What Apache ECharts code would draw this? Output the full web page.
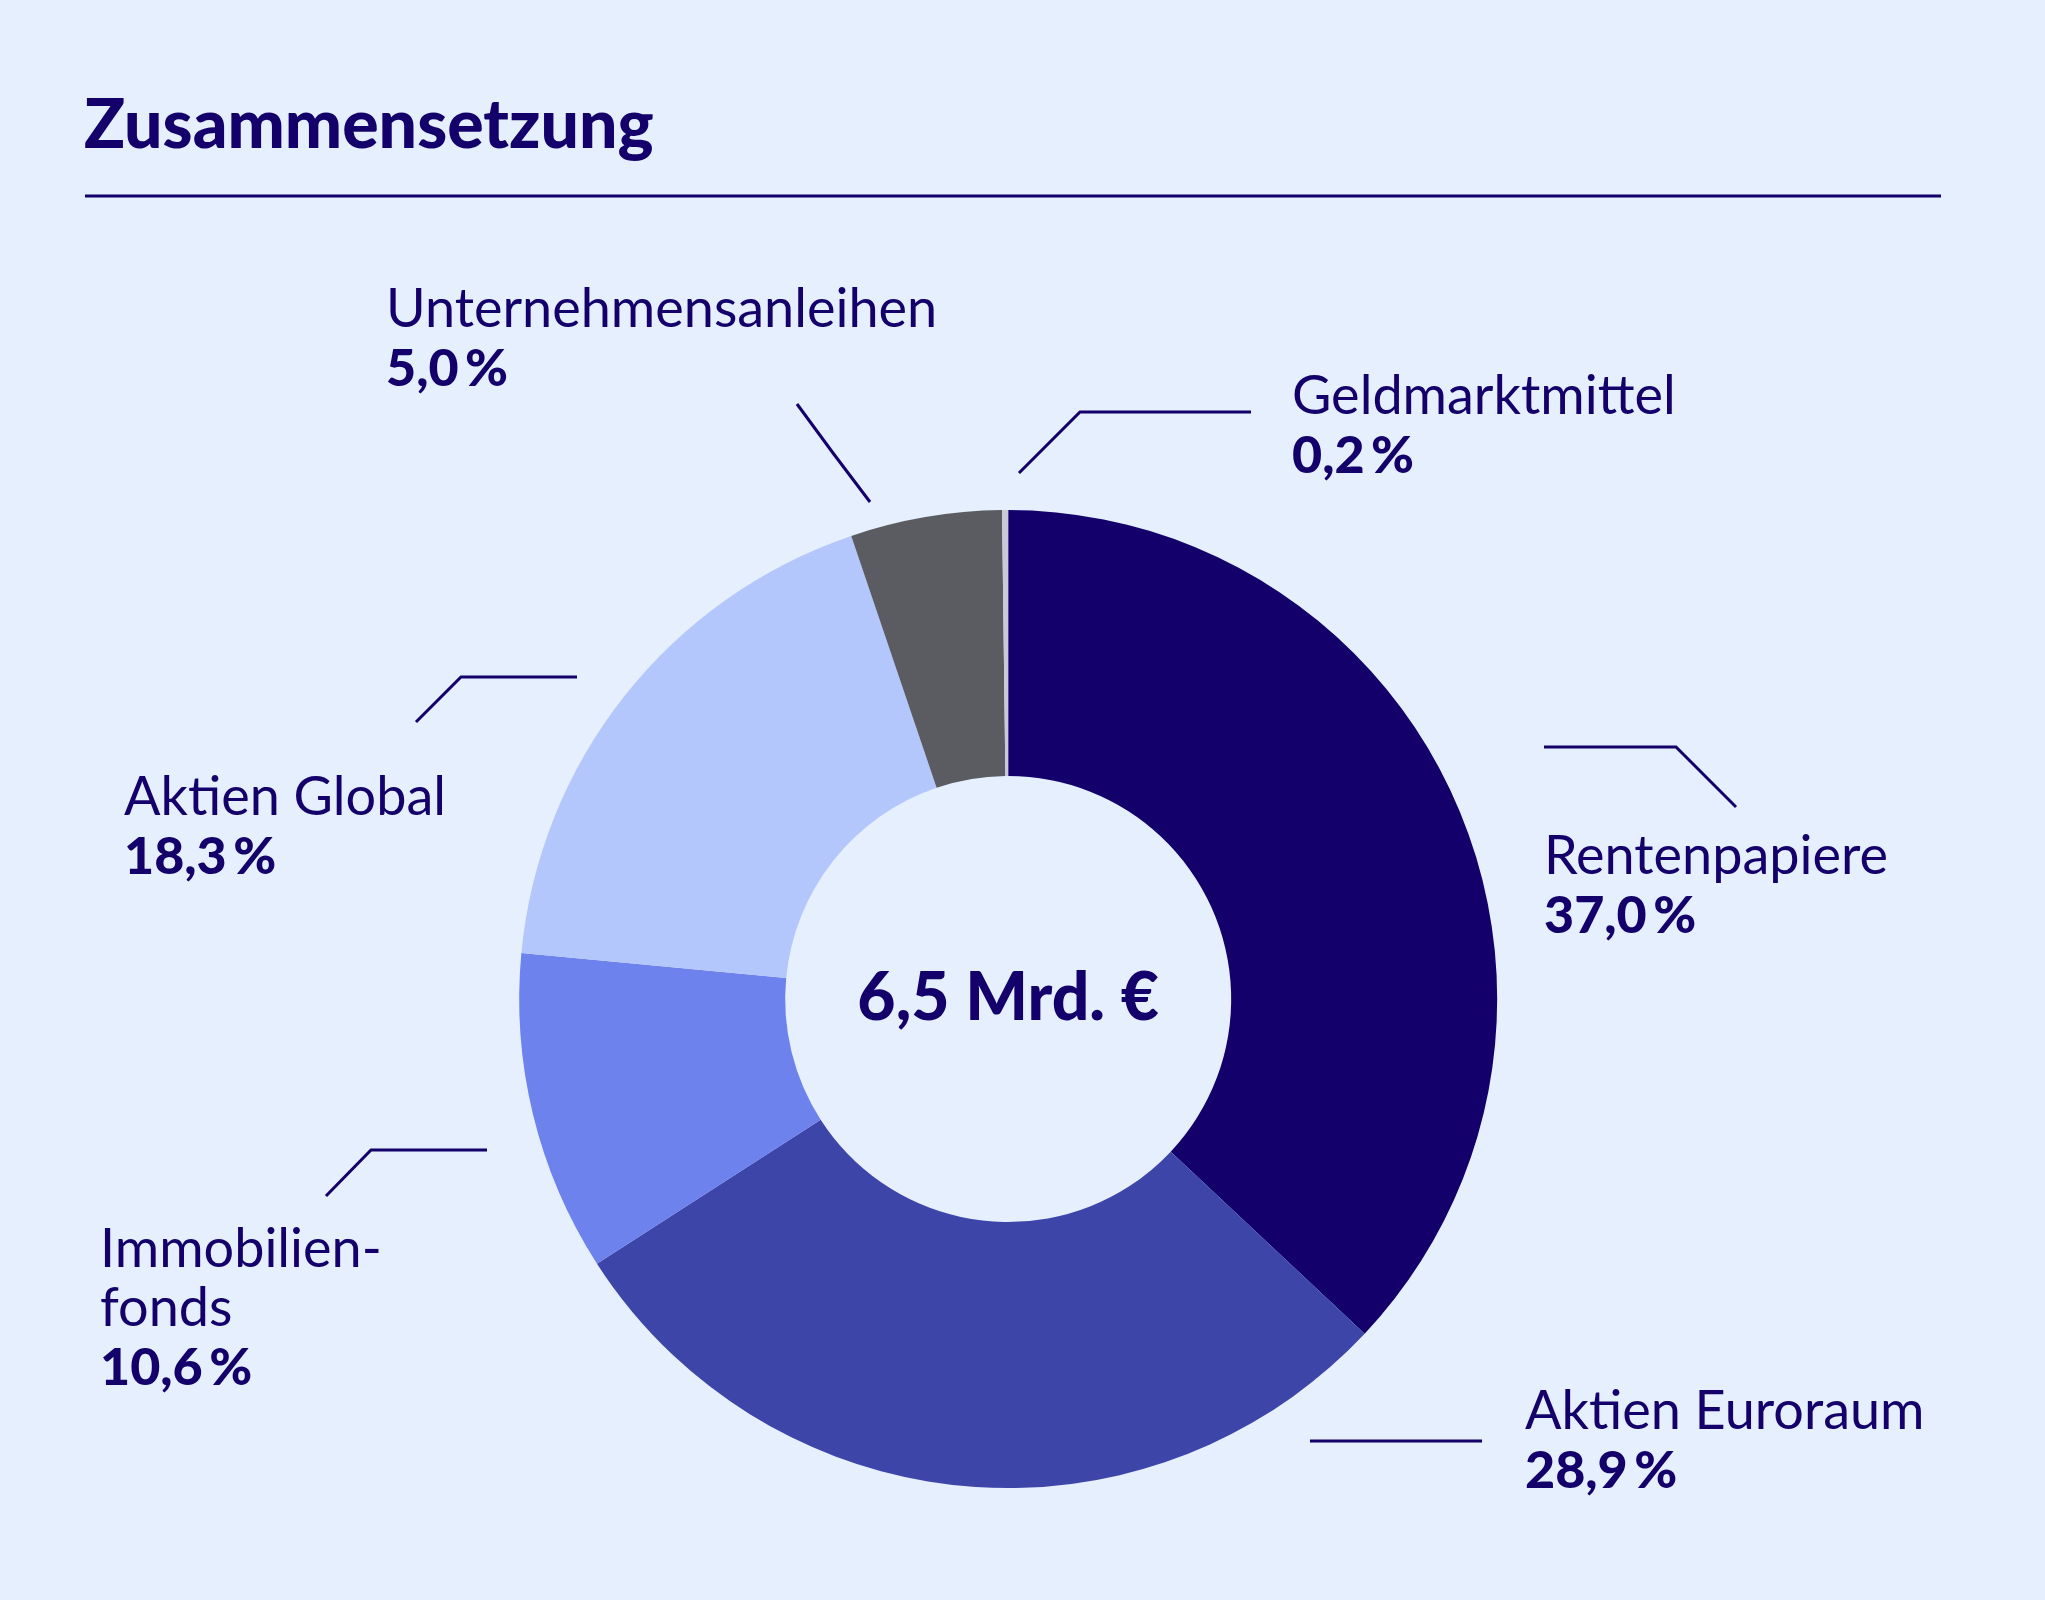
<!DOCTYPE html>
<html>
<head>
<meta charset="utf-8">
<style>
  html, body { margin: 0; padding: 0; background: #e6effd; }
  #chart { width: 2045px; height: 1600px; }
</style>
<script src="https://cdn.jsdelivr.net/npm/echarts@6/dist/echarts.min.js"></script>
</head>
<body>
<div id="chart"></div>
<script>
// ---- data ----
const titleText = 'Zusammensetzung';
const totalLabel = '6,5 Mrd. €';
const categories = ['Rentenpapiere', 'Aktien Euroraum', 'Immobilien-\nfonds', 'Aktien Global', 'Unternehmensanleihen', 'Geldmarktmittel'];
const shares = [37.0, 28.9, 10.6, 18.3, 5.0, 0.2];
const sliceColors = ['#13006a', '#3d46a8', '#6e82ee', '#b4c7fd', '#5b5c62', '#c9cad6'];

// ---- layout (reference canvas 2045 x 1600) ----
const REF_W = 2045, REF_H = 1600;
const ink = '#13006a';
const fontFam = 'Lato, "Noto Sans", sans-serif';
// label text block: left x, centre of first line y
const labelAnchors = [
  [1544, 857],
  [1525, 1412],
  [100, 1250],
  [124, 798],
  [386, 310],
  [1292, 397]
];
// leader lines (polyline points)
const leaderLines = [
  [[1736, 807], [1676, 747], [1544, 747]],
  [[1310, 1441], [1400, 1441], [1482, 1441]],
  [[326, 1196], [371, 1150], [487, 1150]],
  [[416, 722], [461, 677], [577, 677]],
  [[870, 502], [833, 453], [797, 404]],
  [[1019, 473], [1080, 412], [1251, 412]]
];
const lineH = 59;

function fmtPct(v) { return v.toFixed(1).replace('.', ',') + '\u2009%'; }

const chart = echarts.init(document.getElementById('chart'), null, { renderer: 'canvas' });
function sx(v) { return v * chart.getWidth() / REF_W; }
function sy(v) { return v * chart.getHeight() / REF_H; }

const option = {
  backgroundColor: '#e6effd',
  animation: false,
  title: {
    text: titleText,
    left: 84,
    top: 92,
    padding: 0,
    textStyle: { fontFamily: fontFam, fontSize: 68, fontWeight: 900, color: ink, lineHeight: 68 }
  },
  graphic: [{
    type: 'line',
    shape: { x1: 85, y1: 196, x2: 1941, y2: 196 },
    style: { stroke: ink, lineWidth: 3 },
    silent: true
  }],
  series: [
    {
      type: 'pie',
      center: ['49.3%', '62.44%'],
      radius: [223, 489],
      startAngle: 90,
      clockwise: true,
      avoidLabelOverlap: false,
      emphasis: { disabled: true },
      itemStyle: { borderWidth: 0 },
      data: categories.map((c, i) => ({ name: c, value: shares[i], itemStyle: { color: sliceColors[i] } })),
      label: {
        show: true,
        position: 'outside',
        width: 700,
        overflow: 'none',
        align: 'left',
        formatter: p => '{n|' + p.name + '}\n{v|' + fmtPct(p.value) + '}',
        rich: {
          n: { fontFamily: fontFam, fontSize: 54, fontWeight: 400, color: ink, lineHeight: lineH },
          v: { fontFamily: fontFam, fontSize: 52, fontWeight: 900, color: ink, lineHeight: lineH }
        }
      },
      labelLine: {
        show: true,
        length: 20,
        length2: 20,
        lineStyle: { color: ink, width: 3 }
      },
      labelLayout: function (params) {
        const i = params.dataIndex;
        const a = labelAnchors[i];
        return {
          x: sx(a[0]),
          y: sy(a[1] - lineH / 2),
          align: 'left',
          verticalAlign: 'top',
          labelLinePoints: leaderLines[i].map(p => [sx(p[0]), sy(p[1])])
        };
      }
    },
    {
      type: 'pie',
      center: ['49.3%', '62.44%'],
      radius: [0, 1],
      silent: true,
      emphasis: { disabled: true },
      itemStyle: { color: 'rgba(0,0,0,0)' },
      data: [{ name: totalLabel, value: 1 }],
      label: {
        show: true,
        position: 'center',
        formatter: '{b}',
        fontFamily: fontFam,
        fontSize: 66,
        fontWeight: 900,
        color: ink
      },
      labelLine: { show: false }
    }
  ]
};
chart.setOption(option);
</script>
</body>
</html>
